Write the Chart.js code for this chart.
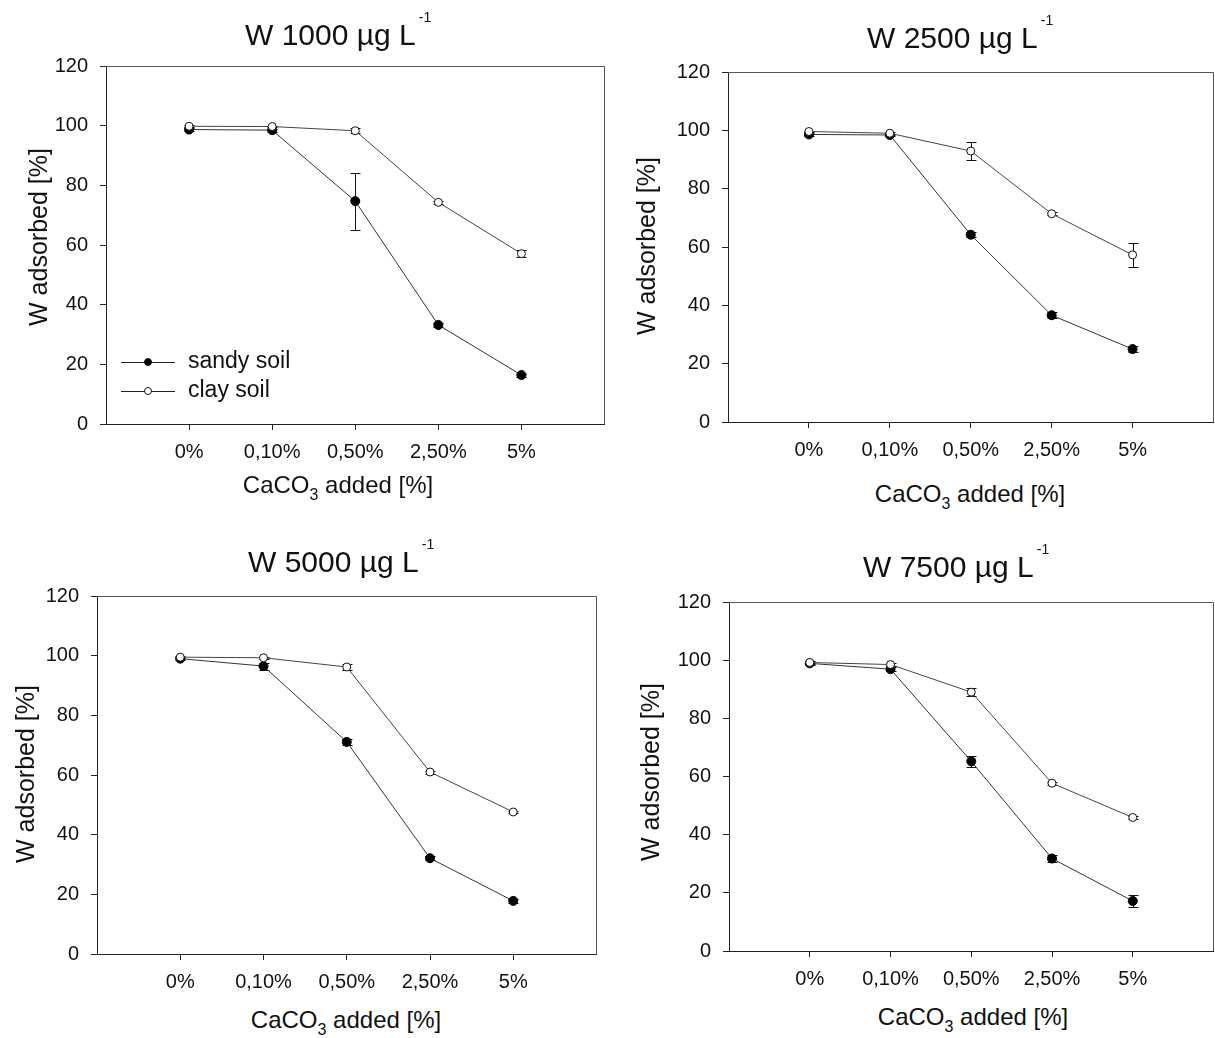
<!DOCTYPE html>
<html>
<head>
<meta charset="utf-8">
<script src="https://cdn.jsdelivr.net/npm/chart.js@4/dist/chart.umd.min.js"></script>
<style>
  html, body { margin: 0; padding: 0; background: #fff; overflow: hidden; }
  body { width: 1215px; height: 1038px; position: relative; font-family: "Liberation Sans", Arial, sans-serif; color: #111; }
  canvas { position: absolute; }
  .title { position: absolute; font-size: 30px; line-height: 30px; white-space: nowrap; }
  .title .sup { font-size: 14px; position: relative; top: -23px; margin-left: 3px; }
  .ytitle { position: absolute; width: 300px; height: 30px; line-height: 30px; font-size: 25px; text-align: center; white-space: nowrap; transform: rotate(-90deg); }
  .xtitle { position: absolute; width: 300px; font-size: 24px; line-height: 24px; text-align: center; white-space: nowrap; }
  .xtitle .sub { font-size: 16px; position: relative; top: 7px; }
  .leg { position: absolute; height: 30px; }
  .leg .ln { position: absolute; left: 0; width: 54px; height: 1px; background: #222; }
  .leg .mk { position: absolute; width: 8px; height: 8px; border-radius: 50%; border: 1px solid #111; box-sizing: border-box; }
  .leg .tx { position: absolute; font-size: 23px; line-height: 23px; white-space: nowrap; }
</style>
</head>
<body>
<script>
// ---------- data ----------
const categories = ['0%', '0,10%', '0,50%', '2,50%', '5%'];
const seriesNames = ['sandy soil', 'clay soil'];
const panelTitles = ['W 1000 µg L', 'W 2500 µg L', 'W 5000 µg L', 'W 7500 µg L'];
const yAxisTitle = 'W adsorbed [%]';

const sandy1000 = [98.7, 98.5, 74.7, 33.2, 16.4];
const sandy1000Err = [0.4, 0.5, 9.6, 0.6, 0.5];
const clay1000 = [99.8, 99.7, 98.3, 74.3, 57.1];
const clay1000Err = [0.3, 0.3, 0.8, 0.6, 1.2];

const sandy2500 = [98.6, 98.4, 64.2, 36.6, 25.0];
const sandy2500Err = [0.4, 0.4, 0.8, 1.0, 0.9];
const clay2500 = [99.6, 99.0, 92.9, 71.4, 57.3];
const clay2500Err = [0.3, 0.5, 3.2, 0.6, 4.0];

const sandy5000 = [99.0, 96.5, 71.1, 32.1, 17.8];
const sandy5000Err = [0.4, 1.2, 1.0, 0.6, 0.8];
const clay5000 = [99.5, 99.3, 96.2, 61.0, 47.6];
const clay5000Err = [0.4, 0.4, 1.0, 0.5, 0.5];

const sandy7500 = [98.9, 96.9, 65.2, 31.8, 17.2];
const sandy7500Err = [0.4, 0.6, 2.0, 1.2, 2.1];
const clay7500 = [99.2, 98.5, 89.0, 57.7, 45.9];
const clay7500Err = [0.4, 0.5, 1.3, 0.5, 0.5];

// ---------- layout ----------
const panels = [
  { plot: [106, 66, 604, 424], sandy: sandy1000, sandyErr: sandy1000Err, clay: clay1000, clayErr: clay1000Err,
    title: [245, 45], ytitle: [38, 237], xtitle: [338, 493], legend: true },
  { plot: [728, 72, 1213, 422], sandy: sandy2500, sandyErr: sandy2500Err, clay: clay2500, clayErr: clay2500Err,
    title: [867, 48], ytitle: [646, 246], xtitle: [970, 502] },
  { plot: [97, 596, 596, 954], sandy: sandy5000, sandyErr: sandy5000Err, clay: clay5000, clayErr: clay5000Err,
    title: [248, 572], ytitle: [25, 774], xtitle: [346, 1028] },
  { plot: [729, 602, 1213, 951], sandy: sandy7500, sandyErr: sandy7500Err, clay: clay7500, clayErr: clay7500Err,
    title: [863, 577], ytitle: [650, 772], xtitle: [973, 1025] }
];

Chart.defaults.font.family = '"Liberation Sans", Arial, sans-serif';
Chart.defaults.font.size = 20;
Chart.defaults.color = '#111';

const errorBarPlugin = {
  id: 'errorBars',
  beforeDatasetsDraw(chart) {
    const ctx = chart.ctx;
    const xs = chart.scales.x, ys = chart.scales.y;
    ctx.save();
    ctx.strokeStyle = '#111';
    ctx.lineWidth = 1;
    chart.data.datasets.forEach(ds => {
      (ds.errors || []).forEach((e, i) => {
        if (!e) return;
        const x = Math.round(xs.getPixelForValue(i + 1)) + 0.5;
        const v = ds.data[i].y;
        const yt = Math.round(ys.getPixelForValue(v + e)) + 0.5;
        const yb = Math.round(ys.getPixelForValue(v - e)) + 0.5;
        ctx.beginPath();
        ctx.moveTo(x, yt); ctx.lineTo(x, yb);
        ctx.moveTo(x - 5, yt); ctx.lineTo(x + 5, yt);
        ctx.moveTo(x - 5, yb); ctx.lineTo(x + 5, yb);
        ctx.stroke();
      });
    });
    ctx.restore();
  },
  afterDraw(chart) {
    const a = chart.chartArea, ctx = chart.ctx;
    ctx.save();
    ctx.strokeStyle = '#555';
    ctx.lineWidth = 1;
    ctx.beginPath();
    ctx.moveTo(Math.round(a.left), Math.round(a.top) + 0.5);
    ctx.lineTo(Math.round(a.right) - 0.5, Math.round(a.top) + 0.5);
    ctx.lineTo(Math.round(a.right) - 0.5, Math.round(a.bottom));
    ctx.stroke();
    ctx.restore();
  }
};

function addDiv(cls, html, style) {
  const d = document.createElement('div');
  d.className = cls;
  d.innerHTML = html;
  Object.assign(d.style, style);
  document.body.appendChild(d);
  return d;
}

function placeCanvas(cv, left, top, w, h) {
  cv.style.left = left + 'px';
  cv.style.top = top + 'px';
  cv.style.width = w + 'px';
  cv.style.height = h + 'px';
}

panels.forEach((p, idx) => {
  const [L, T, R, B] = p.plot;
  const yW = 70, xH = 50, padTop = 20, padRight = 2;
  const cv = document.createElement('canvas');
  let w = (R - L) + yW + padRight, h = (B - T) + padTop + xH;
  cv.width = w; cv.height = h;
  placeCanvas(cv, L - yW, T - padTop, w, h);
  document.body.appendChild(cv);

  const toPts = arr => arr.map((v, i) => ({ x: i + 1, y: v }));

  const chart = new Chart(cv.getContext('2d'), {
    type: 'line',
    data: {
      datasets: [
        { label: seriesNames[0], data: toPts(p.sandy), errors: p.sandyErr, order: 1,
          borderColor: '#333', borderWidth: 1, pointRadius: 4.5, pointBackgroundColor: '#000',
          pointBorderColor: '#000', pointBorderWidth: 1, tension: 0, fill: false },
        { label: seriesNames[1], data: toPts(p.clay), errors: p.clayErr, order: 0,
          borderColor: '#444', borderWidth: 1, pointRadius: 4, pointBackgroundColor: '#fff',
          pointBorderColor: '#111', pointBorderWidth: 1, tension: 0, fill: false }
      ]
    },
    options: {
      responsive: false,
      maintainAspectRatio: false,
      animation: false,
      devicePixelRatio: 1,
      layout: { padding: { top: padTop, right: padRight, left: 0, bottom: 0 } },
      plugins: { legend: { display: false }, tooltip: { enabled: false }, title: { display: false } },
      scales: {
        x: {
          type: 'linear', min: 0, max: 6,
          afterBuildTicks: axis => { axis.ticks = categories.map((c, i) => ({ value: i + 1 })); },
          afterFit: s => { s.height = xH; },
          ticks: { callback: v => categories[v - 1], autoSkip: false, maxRotation: 0, padding: 10, color: '#111' },
          grid: { display: true, drawOnChartArea: false, drawTicks: true, tickLength: 6, color: '#222' },
          border: { display: true, color: '#222', width: 1 }
        },
        y: {
          type: 'linear', min: 0, max: 120,
          afterFit: s => { s.width = yW; },
          ticks: { stepSize: 20, padding: 12, color: '#111' },
          grid: { display: true, drawOnChartArea: false, drawTicks: true, tickLength: 6, color: '#222' },
          border: { display: true, color: '#222', width: 1 }
        }
      }
    },
    plugins: [errorBarPlugin]
  });

  // correct canvas placement so that the plot area lands exactly on the target box
  for (let k = 0; k < 3; k++) {
    const a = chart.chartArea;
    const padL = a.left, padT = a.top, padR = w - a.right, padB = h - a.bottom;
    const nw = Math.round((R - L) + padL + padR);
    const nh = Math.round((B - T) + padT + padB);
    placeCanvas(cv, Math.round(L - padL), Math.round(T - padT), nw, nh);
    if (nw === w && nh === h) break;
    w = nw; h = nh;
    chart.resize(w, h);
  }

  // title with superscript
  addDiv('title', panelTitles[idx] + '<span class="sup">-1</span>',
    { left: p.title[0] + 'px', top: (p.title[1] - 25.4) + 'px' });
  // y axis title
  addDiv('ytitle', yAxisTitle, { left: (p.ytitle[0] - 150) + 'px', top: (p.ytitle[1] - 15) + 'px' });
  // x axis title
  addDiv('xtitle', 'CaCO<span class="sub">3</span> added [%]',
    { left: (p.xtitle[0] - 150) + 'px', top: (p.xtitle[1] - 20.3) + 'px' });

  if (p.legend) {
    const items = [
      { y: 362, fill: '#000', text: seriesNames[0] },
      { y: 391, fill: '#fff', text: seriesNames[1] }
    ];
    items.forEach(it => {
      const lg = addDiv('leg', '', { left: '121px', top: (it.y - 15) + 'px', width: '200px' });
      lg.innerHTML = '<div class="ln" style="top:15px"></div>' +
        '<div class="mk" style="left:23px;top:11px;background:' + it.fill + '"></div>' +
        '<div class="tx" style="left:67px;top:1.5px">' + it.text + '</div>';
    });
  }
});
</script>
</body>
</html>
